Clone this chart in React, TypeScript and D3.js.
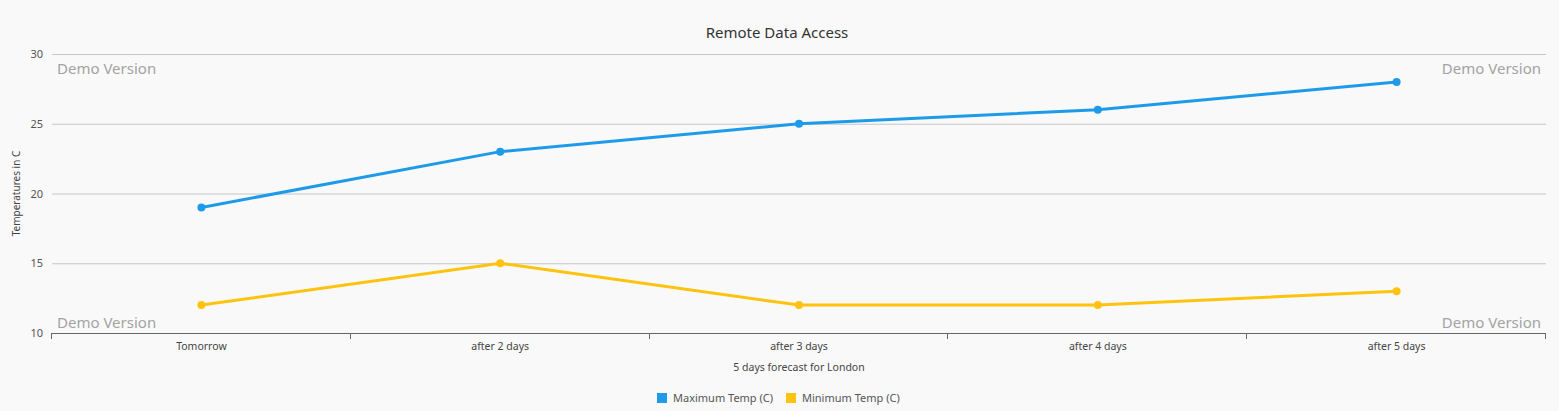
import React, { useEffect, useRef } from 'react';
import * as d3 from 'd3';

const days = ['Tomorrow', 'after 2 days', 'after 3 days', 'after 4 days', 'after 5 days'];
const maxTemp = [19, 23, 25, 26, 28];
const minTemp = [12, 15, 12, 12, 13];
const yTicks = [10, 15, 20, 25, 30];
const seriesNames = ['Maximum Temp (C)', 'Minimum Temp (C)'];
const seriesColors = ['#1e9be8', '#ffc30f'];

const W = 1559;
const H = 411;
const margin = { top: 54, right: 13, bottom: 78, left: 52 };
const FONT = '"Noto Sans", "Open Sans", sans-serif';

export default function App() {
  const ref = useRef<SVGSVGElement>(null);

  useEffect(() => {
    const svg = d3.select(ref.current);
    svg.selectAll('*').remove();

    const x = d3
      .scaleBand()
      .domain(days)
      .range([margin.left, W - margin.right]);
    const y = d3
      .scaleLinear()
      .domain([10, 30])
      .range([H - margin.bottom, margin.top]);

    svg.append('rect').attr('width', W).attr('height', H).attr('fill', '#f9f9f9');

    // grid
    svg
      .append('g')
      .selectAll('line')
      .data(yTicks.slice(1))
      .enter()
      .append('line')
      .attr('x1', margin.left)
      .attr('x2', W - margin.right)
      .attr('y1', d => y(d) + 0.5)
      .attr('y2', d => y(d) + 0.5)
      .attr('stroke', '#c6c6c6');

    // y labels
    svg
      .append('g')
      .selectAll('text')
      .data(yTicks)
      .enter()
      .append('text')
      .attr('x', 43)
      .attr('y', d => y(d) + 4)
      .attr('text-anchor', 'end')
      .style('font-family', FONT)
      .style('font-size', '11px')
      .style('fill', '#555')
      .text(d => d);

    // x axis
    const xAxis = svg.append('g');
    xAxis
      .append('line')
      .attr('x1', margin.left)
      .attr('x2', W - margin.right)
      .attr('y1', y(10) + 0.5)
      .attr('y2', y(10) + 0.5)
      .attr('stroke', '#666');
    const bounds = days.map(d => x(d) as number).concat([W - margin.right]);
    xAxis
      .selectAll('line.tick')
      .data(bounds)
      .enter()
      .append('line')
      .attr('class', 'tick')
      .attr('x1', d => Math.round(d) - 0.5)
      .attr('x2', d => Math.round(d) - 0.5)
      .attr('y1', y(10))
      .attr('y2', y(10) + 6)
      .attr('stroke', '#666');
    xAxis
      .selectAll('text')
      .data(days)
      .enter()
      .append('text')
      .attr('x', d => (x(d) as number) + x.bandwidth() / 2)
      .attr('y', y(10) + 17)
      .attr('text-anchor', 'middle')
      .style('font-family', FONT)
      .style('font-size', '10.5px')
      .style('fill', '#444')
      .text(d => d);

    // titles
    svg
      .append('text')
      .attr('x', 777)
      .attr('y', 38)
      .attr('text-anchor', 'middle')
      .style('font-family', FONT)
      .style('font-size', '15px')
      .style('fill', '#333')
      .text('Remote Data Access');
    svg
      .append('text')
      .attr('x', (margin.left + W - margin.right) / 2)
      .attr('y', 371)
      .attr('text-anchor', 'middle')
      .style('font-family', FONT)
      .style('font-size', '10.5px')
      .style('fill', '#444')
      .text('5 days forecast for London');
    svg
      .append('text')
      .attr('transform', `translate(20, ${(margin.top + H - margin.bottom) / 2}) rotate(-90)`)
      .attr('text-anchor', 'middle')
      .style('font-family', FONT)
      .style('font-size', '10px')
      .style('fill', '#444')
      .text('Temperatures in C');

    // demo watermarks
    const demo = [
      { x: 57, y: 74, a: 'start' },
      { x: 1541, y: 74, a: 'end' },
      { x: 57, y: 328, a: 'start' },
      { x: 1541, y: 328, a: 'end' }
    ];
    svg
      .append('g')
      .selectAll('text')
      .data(demo)
      .enter()
      .append('text')
      .attr('x', d => d.x)
      .attr('y', d => d.y)
      .attr('text-anchor', d => d.a)
      .style('font-family', FONT)
      .style('font-size', '15px')
      .style('fill', '#a3a3a3')
      .text('Demo Version');

    // series
    const series = [maxTemp, minTemp];
    const line = d3
      .line<number>()
      .x((d, i) => (x(days[i]) as number) + x.bandwidth() / 2)
      .y(d => y(d));
    series.forEach((s, k) => {
      const g = svg.append('g');
      g.append('path')
        .attr('d', line(s) as string)
        .attr('fill', 'none')
        .attr('stroke', seriesColors[k])
        .attr('stroke-width', 3);
      g.selectAll('circle')
        .data(s)
        .enter()
        .append('circle')
        .attr('cx', (d, i) => (x(days[i]) as number) + x.bandwidth() / 2)
        .attr('cy', d => y(d))
        .attr('r', 4)
        .attr('fill', seriesColors[k]);
    });

    // legend
    const legend = svg.append('g');
    const lx = [657, 786];
    seriesNames.forEach((n, k) => {
      legend
        .append('rect')
        .attr('x', lx[k])
        .attr('y', 393)
        .attr('width', 10)
        .attr('height', 10)
        .attr('fill', seriesColors[k]);
      legend
        .append('text')
        .attr('x', lx[k] + 16)
        .attr('y', 402)
        .style('font-family', FONT)
        .style('font-size', '11px')
        .style('fill', '#555')
        .text(n);
    });
  }, []);

  return (
    <svg
      ref={ref}
      width={W}
      height={H}
      style={{ position: 'absolute', left: 0, top: 0, display: 'block' }}
    />
  );
}
